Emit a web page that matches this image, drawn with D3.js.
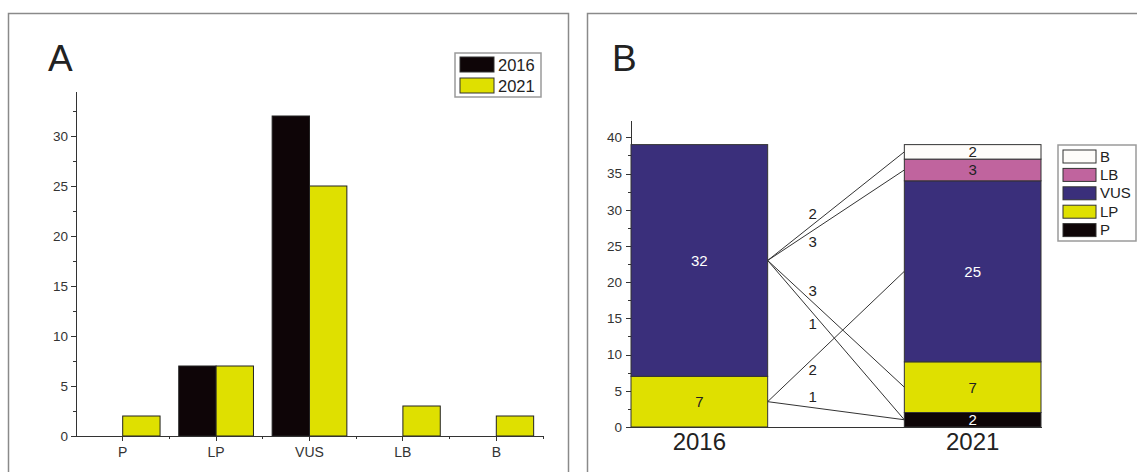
<!DOCTYPE html>
<html lang="en">
    <head>
        <meta charset="utf-8">
        <title>D3.js - variant classes 2016 / 2021</title>
        <script type="text/javascript" src="https://cdn.jsdelivr.net/npm/d3@7/dist/d3.min.js"></script>

		<style>
			body {margin: 0; background: #ffffff;}
			.axe line, .axe path {stroke: #333333; stroke-width: 1px; shape-rendering: crispEdges;}
			text {fill: #222222; font-family: "Liberation Sans", Arial, sans-serif;}
			.axe text {font-size: 13.5px; fill: #333333;}
			.cadre {fill: none; stroke: #8a8a8a; stroke-width: 1.5px;}
			.legende rect.boite {fill: #ffffff; stroke: #9a9a9a; stroke-width: 1.5px;}
			.flux {stroke: #333333; stroke-width: 1px; fill: none;}
		</style>
    </head>
    <body>
		<svg width="1137" height="472"></svg>
        <script type="text/javascript">

		// panel A data
		let categories = ['P', 'LP', 'VUS', 'LB', 'B'];
		let annees = ['2016', '2021'];
		let valeurs2016 = [0, 7, 32, 0, 0];
		let valeurs2021 = [2, 7, 25, 3, 2];
		let ticksA = [0, 5, 10, 15, 20, 25, 30];

		// panel B data
		let pile2016 = [{c: 'LP', v: 7}, {c: 'VUS', v: 32}];
		let pile2021 = [{c: 'P', v: 2}, {c: 'LP', v: 7}, {c: 'VUS', v: 25}, {c: 'LB', v: 3}, {c: 'B', v: 2}];
		let flux = [
			{de: 'VUS', vers: 'B', n: 2},
			{de: 'VUS', vers: 'LB', n: 3},
			{de: 'VUS', vers: 'LP', n: 3},
			{de: 'VUS', vers: 'P', n: 1},
			{de: 'LP', vers: 'VUS', n: 2},
			{de: 'LP', vers: 'P', n: 1}
		];
		let ticksB = [0, 5, 10, 15, 20, 25, 30, 35, 40];
		let ordreLegendeB = ['B', 'LB', 'VUS', 'LP', 'P'];

		let couleurs = {'P': '#0e0507', 'LP': '#dfe000', 'VUS': '#3a2f7b', 'LB': '#c0649e', 'B': '#fefcfa'};
		let couleursAnnee = {'2016': '#0e0507', '2021': '#dfe000'};
		let couleurTexte = {'P': '#ffffff', 'LP': '#222222', 'VUS': '#ffffff', 'LB': '#222222', 'B': '#222222'};

		let svg = d3.select("svg");

		// frames
		svg.append("rect").classed("cadre", true)
			.attr("x", 8.5).attr("y", 13.5).attr("width", 560).attr("height", 480);
		svg.append("rect").classed("cadre", true)
			.attr("x", 587.5).attr("y", 13.5).attr("width", 600).attr("height", 480);

		svg.append("text").text("A")
			.attr("x", 48).attr("y", 71).style("font-size", "37px");
		svg.append("text").text("B")
			.attr("x", 612).attr("y", 71).style("font-size", "37px");

		/// ---------- panel A ----------
		let echelleX = d3.scaleBand()
							.domain(categories)
							.range([76, 543])
							.paddingInner(0)
							.paddingOuter(0);

		let echelleSerie = d3.scaleBand()
							.domain(annees)
							.range([0, echelleX.bandwidth() * 0.8]);

		let echelleY = d3.scaleLinear()
							.domain([0, 34.5])
							.range([436, 91]);

		// minor ticks
		svg.append("g")
			.classed("axe", true)
			.attr("transform", "translate(76, 0)")
			.call(d3.axisLeft(echelleY).tickValues(d3.range(2.5, 34, 5)).tickSize(3).tickFormat(''))
			.select(".domain").remove();

		svg.append("g")
			.classed("axe", true)
			.attr("transform", "translate(76, 0)")
			.call(d3.axisLeft(echelleY).tickValues(ticksA).tickSize(5).tickSizeOuter(0).tickPadding(3));

		let donneesA = [];
		categories.forEach(function (c, i) {
			donneesA.push({c: c, a: '2016', v: valeurs2016[i]});
			donneesA.push({c: c, a: '2021', v: valeurs2021[i]});
		});

		svg.append("g")
			.selectAll("rect")
			.data(donneesA.filter(function (d) { return d.v > 0; }))
			.enter()
			.append("rect")
				.attr("x", function (d) {
					return echelleX(d.c) + echelleX.bandwidth() * 0.1 + echelleSerie(d.a);
				})
				.attr("y", function (d) { return echelleY(d.v); })
				.attr("width", echelleSerie.bandwidth())
				.attr("height", function (d) { return echelleY(0) - echelleY(d.v); })
				.style("fill", function (d) { return couleursAnnee[d.a]; })
				.style("stroke", "#222222")
				.style("stroke-width", 1);

		// x axis with minor ticks at band edges
		let bords = categories.map(function (c) { return echelleX(c); }).slice(1);
		let axeXA = svg.append("g")
			.classed("axe", true)
			.attr("transform", "translate(0, 436)");
		axeXA.call(d3.axisBottom(echelleX).tickSize(5).tickSizeOuter(0).tickPadding(6));
		axeXA.selectAll("text").style("font-size", "14px");
		axeXA.selectAll("line.mineur")
			.data(bords.concat([543]))
			.enter()
			.append("line")
				.classed("mineur", true)
				.attr("x1", function (d) { return d; })
				.attr("x2", function (d) { return d; })
				.attr("y1", 0)
				.attr("y2", 3);

		// legend A
		let legendeA = svg.append("g")
			.classed("legende", true)
			.attr("transform", "translate(455, 53)");
		legendeA.append("rect").classed("boite", true)
			.attr("width", 86).attr("height", 44);
		legendeA.selectAll("rect.echantillon")
			.data(annees)
			.enter()
			.append("rect")
				.classed("echantillon", true)
				.attr("x", 5)
				.attr("y", function (d, i) { return 4 + i * 21; })
				.attr("width", 34)
				.attr("height", 15)
				.style("fill", function (d) { return couleursAnnee[d]; })
				.style("stroke", "#333333");
		legendeA.selectAll("text")
			.data(annees)
			.enter()
			.append("text")
				.text(function (d) { return d; })
				.attr("x", 43)
				.attr("y", function (d, i) { return 17.5 + i * 21; })
				.style("font-size", "16.5px");

		/// ---------- panel B ----------
		let echelleXB = d3.scaleBand()
							.domain(annees)
							.range([631, 1041])
							.paddingInner(0.5)
							.paddingOuter(0);

		let echelleYB = d3.scaleLinear()
							.domain([0, 42.4])
							.range([427, 120]);

		svg.append("g")
			.classed("axe", true)
			.attr("transform", "translate(631, 0)")
			.call(d3.axisLeft(echelleYB).tickValues(d3.range(2.5, 42, 5)).tickSize(3).tickFormat(''))
			.select(".domain").remove();

		svg.append("g")
			.classed("axe", true)
			.attr("transform", "translate(631, 0)")
			.call(d3.axisLeft(echelleYB).tickValues(ticksB).tickSize(5).tickSizeOuter(0).tickPadding(4))
			.selectAll("text").style("font-size", "13.5px");

		// stacked segments
		function empiler(pile, annee) {
			let cumul = 0;
			return pile.map(function (d) {
				let s = {annee: annee, c: d.c, v: d.v, y0: cumul, y1: cumul + d.v};
				cumul += d.v;
				return s;
			});
		}
		let segments = empiler(pile2016, '2016').concat(empiler(pile2021, '2021'));
		function segment(annee, c) {
			return segments.find(function (s) { return s.annee === annee && s.c === c; });
		}

		// flows between the two columns
		let cotesEtiquette = [-1, 1, -1, 1, 1, -1];
		let gFlux = svg.append("g");
		gFlux.selectAll("line")
			.data(flux)
			.enter()
			.append("line")
				.classed("flux", true)
				.attr("x1", echelleXB('2016') + echelleXB.bandwidth())
				.attr("y1", function (d) { let s = segment('2016', d.de); return echelleYB((s.y0 + s.y1) / 2); })
				.attr("x2", echelleXB('2021'))
				.attr("y2", function (d) { let s = segment('2021', d.vers); return echelleYB((s.y0 + s.y1) / 2); });

		gFlux.selectAll("text")
			.data(flux)
			.enter()
			.append("text")
				.text(function (d) { return d.n; })
				.style("font-size", "15px")
				.style("text-anchor", "middle")
				.attr("x", function (d) {
					let x1 = echelleXB('2016') + echelleXB.bandwidth();
					return x1 + (echelleXB('2021') - x1) * 0.33;
				})
				.attr("y", function (d, i) {
					let s1 = segment('2016', d.de), s2 = segment('2021', d.vers);
					let ya = echelleYB((s1.y0 + s1.y1) / 2), yb = echelleYB((s2.y0 + s2.y1) / 2);
					return ya + (yb - ya) * 0.33 + cotesEtiquette[i] * 11 + 5;
				});

		svg.append("g")
			.selectAll("rect")
			.data(segments)
			.enter()
			.append("rect")
				.attr("x", function (d) { return echelleXB(d.annee); })
				.attr("y", function (d) { return echelleYB(d.y1); })
				.attr("width", echelleXB.bandwidth())
				.attr("height", function (d) { return echelleYB(d.y0) - echelleYB(d.y1); })
				.style("fill", function (d) { return couleurs[d.c]; })
				.style("stroke", "#333333")
				.style("stroke-width", 1);

		svg.append("g")
			.selectAll("text")
			.data(segments)
			.enter()
			.append("text")
				.text(function (d) { return d.v; })
				.style("text-anchor", "middle")
				.style("font-size", "15px")
				.style("fill", function (d) { return couleurTexte[d.c]; })
				.attr("x", function (d) { return echelleXB(d.annee) + echelleXB.bandwidth() / 2; })
				.attr("y", function (d) { return echelleYB((d.y0 + d.y1) / 2) + 5.5; });

		// x axis B
		let axeXB = svg.append("g")
			.classed("axe", true)
			.attr("transform", "translate(0, 427)");
		axeXB.call(d3.axisBottom(echelleXB).tickSize(0).tickSizeOuter(0).tickPadding(6));
		axeXB.selectAll("text").style("font-size", "24px").style("fill", "#222222");

		// legend B
		let legendeB = svg.append("g")
			.classed("legende", true)
			.attr("transform", "translate(1058, 145)");
		legendeB.append("rect").classed("boite", true)
			.attr("width", 78).attr("height", 96);
		legendeB.selectAll("rect.echantillon")
			.data(ordreLegendeB)
			.enter()
			.append("rect")
				.classed("echantillon", true)
				.attr("x", 5)
				.attr("y", function (d, i) { return 5 + i * 18.4; })
				.attr("width", 33)
				.attr("height", 13)
				.style("fill", function (d) { return couleurs[d]; })
				.style("stroke", "#333333");
		legendeB.selectAll("text")
			.data(ordreLegendeB)
			.enter()
			.append("text")
				.text(function (d) { return d; })
				.attr("x", 42)
				.attr("y", function (d, i) { return 16.5 + i * 18.4; })
				.style("font-size", "15px");
		</script>
    </body>
</html>
